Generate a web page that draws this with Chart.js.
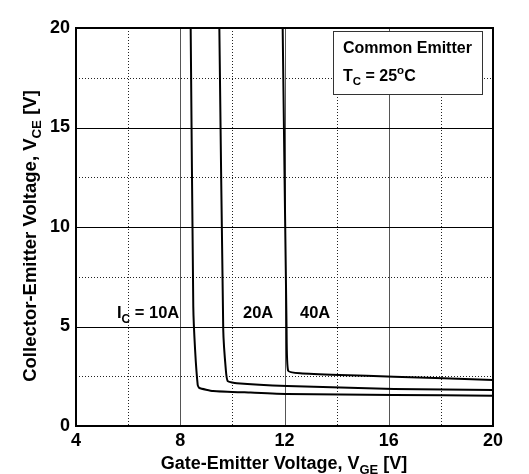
<!DOCTYPE html>
<html>
<head>
<meta charset="utf-8">
<script src="https://cdn.jsdelivr.net/npm/chart.js@4/dist/chart.umd.min.js"></script>
<style>
  html, body { margin: 0; padding: 0; background: #fff; }
  #wrap { width: 529px; height: 474px; }
</style>
</head>
<body>
<div id="wrap"><canvas id="chart" width="529" height="474"></canvas></div>
<script>
// data
const vge10 = [8.40, 8.50, 8.57, 8.67, 8.73, 9.26, 10.7, 12.1, 16.2, 20];
const vce10 = [20, 6.0, 3.82, 2.06, 1.91, 1.76, 1.68, 1.61, 1.56, 1.52];
const vge20 = [9.50, 9.65, 9.75, 9.82, 10.17, 12.1, 16.2, 20];
const vce20 = [20, 4.82, 2.80, 2.26, 2.15, 2.01, 1.86, 1.81];
const vge40 = [11.93, 12.08, 12.14, 12.6, 14.1, 16.2, 20];
const vce40 = [20, 4.82, 2.78, 2.65, 2.56, 2.48, 2.31];

const xMajor = [8, 12, 16];
const xMinor = [6, 10, 14, 18];
const yMajor = [5, 10, 15];
const yMinor = [2.5, 7.5, 12.5, 17.5];

const FONT = '"Liberation Sans", Arial, sans-serif';

function pts(xs, ys) {
    return xs.map((x, i) => ({ x: x, y: ys[i] }));
}

function drawRich(ctx, parts, x, y, size, align) {
    let w = 0;
    parts.forEach(p => {
        ctx.font = 'bold ' + (p.s || p.u ? size * 0.72 : size) + 'px ' + FONT;
        w += ctx.measureText(p.t).width;
    });
    let cx = align === 'center' ? x - w / 2 : x;
    ctx.textAlign = 'left';
    ctx.textBaseline = 'alphabetic';
    parts.forEach(p => {
        ctx.font = 'bold ' + (p.s || p.u ? size * 0.72 : size) + 'px ' + FONT;
        let dy = p.s ? size * 0.28 : (p.u ? -size * 0.42 : 0);
        ctx.fillText(p.t, cx, y + dy);
        cx += ctx.measureText(p.t).width;
    });
}

const decor = {
    id: 'decor',
    beforeDatasetsDraw(chart) {
        const ctx = chart.ctx;
        const xs = chart.scales.x, ys = chart.scales.y;
        const a = chart.chartArea;
        ctx.save();
        ctx.lineWidth = 1;
        ctx.strokeStyle = '#222';
        ctx.setLineDash([1, 2]);
        xMinor.forEach(v => {
            const px = Math.round(xs.getPixelForValue(v)) + 0.5;
            ctx.beginPath(); ctx.moveTo(px, a.top); ctx.lineTo(px, a.bottom); ctx.stroke();
        });
        yMinor.forEach(v => {
            const py = Math.round(ys.getPixelForValue(v)) + 0.5;
            ctx.beginPath(); ctx.moveTo(a.left, py); ctx.lineTo(a.right, py); ctx.stroke();
        });
        ctx.setLineDash([]);
        ctx.strokeStyle = '#555';
        xMajor.forEach(v => {
            const px = Math.round(xs.getPixelForValue(v)) + 0.5;
            ctx.beginPath(); ctx.moveTo(px, a.top); ctx.lineTo(px, a.bottom); ctx.stroke();
        });
        ctx.strokeStyle = '#000';
        yMajor.forEach(v => {
            const py = Math.round(ys.getPixelForValue(v)) + 0.5;
            ctx.beginPath(); ctx.moveTo(a.left, py); ctx.lineTo(a.right, py); ctx.stroke();
        });
        ctx.restore();
    },
    afterDatasetsDraw(chart) {
        const ctx = chart.ctx;
        const a = chart.chartArea;
        ctx.save();
        ctx.strokeStyle = '#000';
        ctx.lineWidth = 2;
        ctx.strokeRect(a.left, a.top, a.right - a.left, a.bottom - a.top);

        // legend box
        ctx.fillStyle = '#fff';
        ctx.fillRect(333, 31, 149, 63);
        ctx.lineWidth = 1;
        ctx.strokeStyle = '#333';
        ctx.strokeRect(333.5, 31.5, 149, 63);
        ctx.fillStyle = '#000';
        drawRich(ctx, [{ t: 'Common Emitter' }], 343, 53, 16, 'left');
        drawRich(ctx, [{ t: 'T' }, { t: 'C', s: 1 }, { t: ' = 25' }, { t: 'o', u: 1 }, { t: 'C' }], 343, 81, 16, 'left');

        // curve labels
        drawRich(ctx, [{ t: 'I' }, { t: 'C', s: 1 }, { t: ' = 10A' }], 117, 318, 16.5, 'left');
        drawRich(ctx, [{ t: '20A' }], 243, 318, 16.5, 'left');
        drawRich(ctx, [{ t: '40A' }], 300, 318, 16.5, 'left');

        // axis titles
        drawRich(ctx, [{ t: 'Gate-Emitter Voltage, V' }, { t: 'GE', s: 1 }, { t: ' [V]' }], 284, 469, 18, 'center');
        ctx.translate(36, 236);
        ctx.rotate(-Math.PI / 2);
        drawRich(ctx, [{ t: 'Collector-Emitter Voltage, V' }, { t: 'CE', s: 1 }, { t: ' [V]' }], 0, 0, 18.5, 'center');
        ctx.restore();
    }
};

const lineStyle = {
    borderColor: '#000',
    borderWidth: 2,
    pointRadius: 0,
    tension: 0.15,
    showLine: true,
    fill: false
};

new Chart(document.getElementById('chart'), {
    type: 'scatter',
    data: {
        datasets: [
            Object.assign({ label: '10A', data: pts(vge10, vce10) }, lineStyle),
            Object.assign({ label: '20A', data: pts(vge20, vce20) }, lineStyle),
            Object.assign({ label: '40A', data: pts(vge40, vce40) }, lineStyle)
        ]
    },
    options: {
        responsive: false,
        animation: false,
        layout: { padding: { left: 0, right: 36, top: 28, bottom: 0 } },
        plugins: { legend: { display: false }, tooltip: { enabled: false } },
        scales: {
            x: {
                type: 'linear', min: 4, max: 20,
                grid: { display: false, drawTicks: false },
                border: { display: false },
                ticks: { stepSize: 4, color: '#000', padding: 4, maxRotation: 0,
                         font: { family: FONT, size: 18, weight: 'bold' } },
                afterFit(s) { s.height = 48; }
            },
            y: {
                min: 0, max: 20,
                grid: { display: false, drawTicks: false },
                border: { display: false },
                ticks: { stepSize: 5, color: '#000', padding: 6,
                         font: { family: FONT, size: 18, weight: 'bold' } },
                afterFit(s) { s.width = 76; }
            }
        }
    },
    plugins: [decor]
});
</script>
</body>
</html>
